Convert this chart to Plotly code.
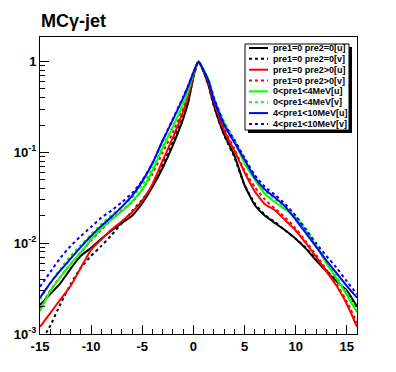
import plotly.graph_objects as go

x_vals = [-15, -14, -13, -12, -11, -10, -9, -8, -7, -6, -5, -4, -3, -2, -1, -0.5, 0, 0.5,
          1, 1.5, 2, 3, 4, 5, 6, 7, 8, 9, 10, 11, 12, 13, 14, 15, 16]

pre0_pre20_u = [0.00209, 0.00275, 0.00363, 0.00525, 0.00724, 0.00891, 0.0112, 0.0138, 0.0166, 0.0200,
                0.0275, 0.0417, 0.0676, 0.120, 0.234, 0.355, 0.676, 1.0, 0.776, 0.537, 0.331,
                0.158, 0.0933, 0.0437, 0.0263, 0.0200, 0.0166, 0.0138, 0.0112, 0.00871, 0.00646,
                0.00490, 0.00380, 0.00302, 0.00200]
pre0_pre20_v = [0.00079, 0.00123, 0.00214, 0.00355, 0.00537, 0.00724, 0.00933, 0.0123, 0.0166, 0.0224,
                0.0302, 0.0427, 0.0759, 0.132, 0.251, 0.363, 0.676, 1.0, 0.776, 0.537, 0.324,
                0.155, 0.0891, 0.0437, 0.0275, 0.0204, 0.0170, 0.0138, 0.0112, 0.00891, 0.00661,
                0.00501, 0.00389, 0.00295, 0.00191]
pre0_pre2g_u = [0.00120, 0.00170, 0.00240, 0.00339, 0.00537, 0.00851, 0.0110, 0.0141, 0.0174, 0.0219,
                0.0295, 0.0447, 0.0813, 0.145, 0.282, 0.417, 0.708, 1.0, 0.794, 0.575, 0.363,
                0.174, 0.105, 0.0603, 0.0372, 0.0269, 0.0229, 0.0178, 0.0138, 0.0100, 0.00708,
                0.00490, 0.00339, 0.00214, 0.00120]
pre0_pre2g_v = [0.00191, 0.00302, 0.00427, 0.00589, 0.00794, 0.0107, 0.0141, 0.0182, 0.0229, 0.0282,
                0.0389, 0.0575, 0.100, 0.166, 0.302, 0.437, 0.724, 1.0, 0.794, 0.589, 0.372,
                0.182, 0.110, 0.0631, 0.0417, 0.0302, 0.0240, 0.0191, 0.0145, 0.0105, 0.00741,
                0.00513, 0.00355, 0.00229, 0.00132]
pre4_u = [0.00178, 0.00295, 0.00427, 0.00589, 0.00794, 0.0110, 0.0145, 0.0182, 0.0224, 0.0288,
          0.0389, 0.0631, 0.112, 0.191, 0.339, 0.479, 0.741, 1.0, 0.813, 0.617, 0.398,
          0.209, 0.132, 0.0759, 0.0501, 0.0347, 0.0282, 0.0234, 0.0191, 0.0138, 0.00933,
          0.00603, 0.00407, 0.00269, 0.00174]
pre4_v = [0.00240, 0.00363, 0.00525, 0.00724, 0.00955, 0.0126, 0.0162, 0.0204, 0.0251, 0.0316,
          0.0437, 0.0661, 0.117, 0.195, 0.347, 0.490, 0.741, 1.0, 0.813, 0.631, 0.407,
          0.219, 0.138, 0.0832, 0.0537, 0.0380, 0.0302, 0.0251, 0.0200, 0.0145, 0.00977,
          0.00631, 0.00427, 0.00282, 0.00182]
pre10_u = [0.00251, 0.00363, 0.00501, 0.00676, 0.00912, 0.0120, 0.0155, 0.0195, 0.0251, 0.0331,
           0.0479, 0.0759, 0.135, 0.229, 0.398, 0.537, 0.759, 1.0, 0.794, 0.603, 0.380,
           0.200, 0.129, 0.0832, 0.0525, 0.0389, 0.0316, 0.0251, 0.0182, 0.0129, 0.00912,
           0.00646, 0.00468, 0.00339, 0.00251]
pre10_v = [0.00331, 0.00479, 0.00692, 0.00933, 0.0120, 0.0151, 0.0191, 0.0229, 0.0282, 0.0355,
           0.0490, 0.0759, 0.135, 0.234, 0.407, 0.550, 0.759, 1.0, 0.794, 0.603, 0.398,
           0.209, 0.138, 0.0871, 0.0562, 0.0417, 0.0339, 0.0269, 0.0200, 0.0141, 0.0100,
           0.00724, 0.00537, 0.00380, 0.00275]

series_names = ["pre1=0 pre2=0[u]", "pre1=0 pre2=0[v]", "pre1=0 pre2>0[u]", "pre1=0 pre2>0[v]",
                "0<pre1<4MeV[u]", "0<pre1<4MeV[v]", "4<pre1<10MeV[u]", "4<pre1<10MeV[v]"]
series_vals = [pre0_pre20_u, pre0_pre20_v, pre0_pre2g_u, pre0_pre2g_v,
               pre4_u, pre4_v, pre10_u, pre10_v]
colors = ["#000000", "#000000", "#ff0000", "#ff0000", "#00ff00", "#00ff00", "#0000ff", "#0000ff"]
dashes = ["solid", "3px,3px", "solid", "3px,3px", "solid", "3px,3px", "solid", "3px,3px"]

x_ticks = [-15, -10, -5, 0, 5, 10, 15]
y_tickvals = [0.001, 0.01, 0.1, 1]
y_ticktext = ["10<sup>-3</sup>", "10<sup>-2</sup>", "10<sup>-1</sup>", "1"]

W, H = 396, 372
L, R, T, B = 40, 39, 37, 38
pw, ph = W - L - R, H - T - B

def px(xp):
    return (xp - L) / pw

def py(yp):
    return (H - B - yp) / ph

fig = go.Figure()
for name, vals, c, d in zip(series_names, series_vals, colors, dashes):
    fig.add_trace(go.Scatter(x=x_vals, y=vals, mode="lines", name=name, showlegend=False,
                             hoverinfo="skip",
                             line=dict(color=c, width=2, dash=d, shape="spline", smoothing=0.5)))

font = dict(family="Liberation Sans, Arial, sans-serif", color="black")

minor_y = [m * 10 ** e for e in range(-3, 1) for m in range(2, 10)]

fig.update_xaxes(range=[-15, 16], showline=True, linecolor="black", linewidth=1, mirror=True,
                 ticks="inside", ticklen=9, tickcolor="black", tickvals=x_ticks,
                 ticktext=[str(v) for v in x_ticks],
                 minor=dict(ticks="inside", ticklen=5, tickcolor="black", dtick=1, showgrid=False),
                 showgrid=False, zeroline=False, automargin=False,
                 tickfont=dict(size=13, weight="bold", **font))
fig.update_yaxes(type="log", range=[-3, 0.27], showline=True, linecolor="black", linewidth=1,
                 mirror=True, ticks="inside", ticklen=9, tickcolor="black",
                 tickvals=y_tickvals, ticktext=y_ticktext,
                 minor=dict(ticks="inside", ticklen=5, tickcolor="black", tickvals=minor_y,
                            showgrid=False),
                 showgrid=False, zeroline=False, automargin=False,
                 tickfont=dict(size=13, weight="bold", **font))

# legend box with shadow (drawn manually)
lx0, lx1, ly0, ly1 = 245, 349, 44, 130
shapes = [
    dict(type="rect", xref="paper", yref="paper", x0=px(lx0 + 3), x1=px(lx1 + 3),
         y0=py(ly1 + 3), y1=py(ly0 + 3), fillcolor="black", line=dict(width=0), layer="above"),
    dict(type="rect", xref="paper", yref="paper", x0=px(lx0), x1=px(lx1),
         y0=py(ly1), y1=py(ly0), fillcolor="white", line=dict(color="black", width=1), layer="above"),
]
annotations = []
row0, drow = 48, 10.85
for i, (name, c, d) in enumerate(zip(series_names, colors, dashes)):
    yy = row0 + i * drow
    shapes.append(dict(type="line", xref="paper", yref="paper", x0=px(249), x1=px(268),
                       y0=py(yy), y1=py(yy), line=dict(color=c, width=2, dash=d), layer="above"))
    annotations.append(dict(text=name, xref="paper", yref="paper", x=px(271), y=py(yy),
                            xanchor="left", yanchor="middle", showarrow=False,
                            font=dict(size=9, weight="bold", **font)))

annotations.append(dict(text="MCγ-jet", xref="paper", yref="paper", x=px(39), y=py(21),
                        xanchor="left", yanchor="middle", showarrow=False,
                        font=dict(size=18, weight="bold", **font)))

fig.update_layout(width=W, height=H, margin=dict(l=L, r=R, t=T, b=B),
                  paper_bgcolor="white", plot_bgcolor="white", hovermode=False,
                  shapes=shapes, annotations=annotations, showlegend=False)

fig.write_html("out.html", config={"displayModeBar": False, "staticPlot": True},
               post_script="document.body.style.margin='0';")
